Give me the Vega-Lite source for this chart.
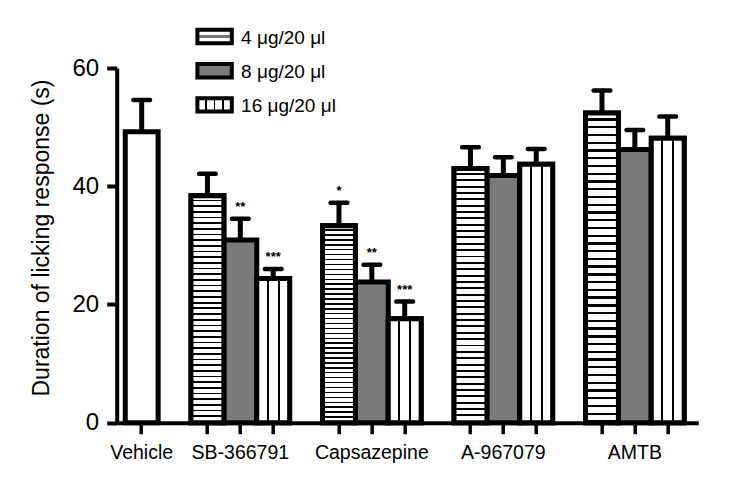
{
  "$schema": "https://vega.github.io/schema/vega-lite/v6.json",
  "width": 581.6,
  "height": 354.7,
  "autosize": "none",
  "padding": {"left": 116.7, "top": 68, "right": 32.7, "bottom": 62.3},
  "config": {"view": {"stroke": null}, "axis": {"grid": false}},
  "data": {"values": [
    {"group": "Vehicle", "dose": "Vehicle", "mean": 49.2, "upper": 54.6, "stars": ""},
    {"group": "SB-366791", "dose": "4 μg/20 μl", "mean": 38.4, "upper": 42.1, "stars": ""},
    {"group": "SB-366791", "dose": "8 μg/20 μl", "mean": 30.9, "upper": 34.5, "stars": "**"},
    {"group": "SB-366791", "dose": "16 μg/20 μl", "mean": 24.4, "upper": 26.0, "stars": "***"},
    {"group": "Capsazepine", "dose": "4 μg/20 μl", "mean": 33.3, "upper": 37.2, "stars": "*"},
    {"group": "Capsazepine", "dose": "8 μg/20 μl", "mean": 23.8, "upper": 26.7, "stars": "**"},
    {"group": "Capsazepine", "dose": "16 μg/20 μl", "mean": 17.6, "upper": 20.5, "stars": "***"},
    {"group": "A-967079", "dose": "4 μg/20 μl", "mean": 43.0, "upper": 46.6, "stars": ""},
    {"group": "A-967079", "dose": "8 μg/20 μl", "mean": 41.8, "upper": 44.9, "stars": ""},
    {"group": "A-967079", "dose": "16 μg/20 μl", "mean": 43.7, "upper": 46.3, "stars": ""},
    {"group": "AMTB", "dose": "4 μg/20 μl", "mean": 52.4, "upper": 56.2, "stars": ""},
    {"group": "AMTB", "dose": "8 μg/20 μl", "mean": 46.2, "upper": 49.5, "stars": ""},
    {"group": "AMTB", "dose": "16 μg/20 μl", "mean": 48.1, "upper": 51.8, "stars": ""}
  ]},
  "transform": [{"calculate": "datum.group + '|' + datum.dose", "as": "key"}],
  "encoding": {
    "x": {
      "field": "key",
      "type": "nominal",
      "sort": null,
      "scale": {
        "domain": ["Vehicle|Vehicle", "gap1", "SB-366791|4 μg/20 μl", "SB-366791|8 μg/20 μl", "SB-366791|16 μg/20 μl", "gap2", "Capsazepine|4 μg/20 μl", "Capsazepine|8 μg/20 μl", "Capsazepine|16 μg/20 μl", "gap3", "A-967079|4 μg/20 μl", "A-967079|8 μg/20 μl", "A-967079|16 μg/20 μl", "gap4", "AMTB|4 μg/20 μl", "AMTB|8 μg/20 μl", "AMTB|16 μg/20 μl"],
        "paddingInner": 0,
        "paddingOuter": 0.345,
        "align": 0.377
      },
      "axis": {
        "title": null,
        "values": ["Vehicle|Vehicle", "SB-366791|4 μg/20 μl", "SB-366791|8 μg/20 μl", "SB-366791|16 μg/20 μl", "Capsazepine|4 μg/20 μl", "Capsazepine|8 μg/20 μl", "Capsazepine|16 μg/20 μl", "A-967079|4 μg/20 μl", "A-967079|8 μg/20 μl", "A-967079|16 μg/20 μl", "AMTB|4 μg/20 μl", "AMTB|8 μg/20 μl", "AMTB|16 μg/20 μl"],
        "labelExpr": "(indexof(datum.value, '|8 ') > 0 || datum.value == 'Vehicle|Vehicle') ? slice(datum.value, 0, indexof(datum.value, '|')) : ''",
        "labelAngle": 0,
        "labelFont": "Liberation Sans",
        "labelFontSize": 19.5,
        "labelColor": "#000",
        "labelPadding": 10,
        "labelDx": 5,
        "labelLimit": 0,
        "labelOverlap": false,
        "domainWidth": 4,
        "domainColor": "#000",
        "tickWidth": 3.5,
        "tickColor": "#000",
        "tickSize": 11
      }
    }
  },
  "layer": [
    {
      "mark": {"type": "bar", "stroke": "#000", "strokeWidth": 5},
      "encoding": {
        "y": {
          "field": "mean",
          "type": "quantitative",
          "title": "Duration of licking response (s)",
          "scale": {"domain": [0, 60], "nice": false},
          "axis": {
            "values": [0, 20, 40, 60],
            "labelFont": "Liberation Sans",
            "labelFontSize": 24,
            "labelColor": "#000",
            "labelPadding": 8,
            "labelFlush": false,
            "domainWidth": 4,
            "domainColor": "#000",
            "tickWidth": 4,
            "tickColor": "#000",
            "tickSize": 10,
            "titleFont": "Liberation Sans",
            "titleFontSize": 23,
            "titleFontWeight": "normal",
            "titleColor": "#000",
            "titlePadding": 19,
            "titleY": 169.5
          }
        },
        "fill": {
          "field": "dose",
          "type": "nominal",
          "scale": {
            "domain": ["4 μg/20 μl", "8 μg/20 μl", "16 μg/20 μl", "Vehicle"],
            "range": [
              {"expr": "{gradient: 'linear', x1: 0, y1: 0, x2: 0, y2: 1, stops: [{offset: 0, color: '#fff'}, {offset: 0.42, color: '#fff'}, {offset: 0.42, color: '#777'}, {offset: 0.58, color: '#777'}, {offset: 0.58, color: '#fff'}, {offset: 1, color: '#fff'}]}"},
              "#7a7a7a",
              {"expr": "{gradient: 'linear', x1: 0, y1: 0, x2: 1, y2: 0, stops: [{offset: 0, color: '#fff'}, {offset: 0.225, color: '#fff'}, {offset: 0.225, color: '#000'}, {offset: 0.275, color: '#000'}, {offset: 0.275, color: '#fff'}, {offset: 0.475, color: '#fff'}, {offset: 0.475, color: '#000'}, {offset: 0.525, color: '#000'}, {offset: 0.525, color: '#fff'}, {offset: 0.725, color: '#fff'}, {offset: 0.725, color: '#000'}, {offset: 0.775, color: '#000'}, {offset: 0.775, color: '#fff'}, {offset: 1, color: '#fff'}]}"},
              "#ffffff"
            ]
          },
          "legend": {
            "values": ["4 μg/20 μl", "8 μg/20 μl", "16 μg/20 μl"],
            "title": null,
            "orient": "none",
            "legendX": 79.4,
            "legendY": -50,
            "padding": 0,
            "symbolType": "M-1.049,-0.41H1.049V0.41H-1.049Z",
            "symbolSize": 1076,
            "symbolStrokeColor": "#000",
            "symbolStrokeWidth": 4,
            "rowPadding": 0.2,
            "labelOffset": 8,
            "labelFont": "Liberation Sans",
            "labelFontSize": 19,
            "labelColor": "#000",
            "labelLimit": 0,
            "encode": {
              "symbols": {"update": {
                "stroke": {"value": "#000"},
                "strokeWidth": {"value": 4}
              }},
              "labels": {"update": {"dy": {"value": 1}}}
            }
          }
        }
      }
    },
    {
      "transform": [{"filter": "datum.dose == '4 μg/20 μl'"}],
      "mark": {"type": "bar", "stroke": "#000", "strokeWidth": 5, "fill": {"gradient": "linear", "x1": 0, "y1": 0, "x2": 0, "y2": 1, "stops": [
        {"offset":0,"color":"#fff"},{"offset":0.0175,"color":"#fff"},{"offset":0.0175,"color":"#000"},{"offset":0.025,"color":"#000"},
        {"offset":0.025,"color":"#fff"},{"offset":0.0425,"color":"#fff"},{"offset":0.0425,"color":"#000"},{"offset":0.05,"color":"#000"},
        {"offset":0.05,"color":"#fff"},{"offset":0.0675,"color":"#fff"},{"offset":0.0675,"color":"#000"},{"offset":0.075,"color":"#000"},
        {"offset":0.075,"color":"#fff"},{"offset":0.0925,"color":"#fff"},{"offset":0.0925,"color":"#000"},{"offset":0.1,"color":"#000"},
        {"offset":0.1,"color":"#fff"},{"offset":0.1175,"color":"#fff"},{"offset":0.1175,"color":"#000"},{"offset":0.125,"color":"#000"},
        {"offset":0.125,"color":"#fff"},{"offset":0.1425,"color":"#fff"},{"offset":0.1425,"color":"#000"},{"offset":0.15,"color":"#000"},
        {"offset":0.15,"color":"#fff"},{"offset":0.1675,"color":"#fff"},{"offset":0.1675,"color":"#000"},{"offset":0.175,"color":"#000"},
        {"offset":0.175,"color":"#fff"},{"offset":0.1925,"color":"#fff"},{"offset":0.1925,"color":"#000"},{"offset":0.2,"color":"#000"},
        {"offset":0.2,"color":"#fff"},{"offset":0.2175,"color":"#fff"},{"offset":0.2175,"color":"#000"},{"offset":0.225,"color":"#000"},
        {"offset":0.225,"color":"#fff"},{"offset":0.2425,"color":"#fff"},{"offset":0.2425,"color":"#000"},{"offset":0.25,"color":"#000"},
        {"offset":0.25,"color":"#fff"},{"offset":0.2675,"color":"#fff"},{"offset":0.2675,"color":"#000"},{"offset":0.275,"color":"#000"},
        {"offset":0.275,"color":"#fff"},{"offset":0.2925,"color":"#fff"},{"offset":0.2925,"color":"#000"},{"offset":0.3,"color":"#000"},
        {"offset":0.3,"color":"#fff"},{"offset":0.3175,"color":"#fff"},{"offset":0.3175,"color":"#000"},{"offset":0.325,"color":"#000"},
        {"offset":0.325,"color":"#fff"},{"offset":0.3425,"color":"#fff"},{"offset":0.3425,"color":"#000"},{"offset":0.35,"color":"#000"},
        {"offset":0.35,"color":"#fff"},{"offset":0.3675,"color":"#fff"},{"offset":0.3675,"color":"#000"},{"offset":0.375,"color":"#000"},
        {"offset":0.375,"color":"#fff"},{"offset":0.3925,"color":"#fff"},{"offset":0.3925,"color":"#000"},{"offset":0.4,"color":"#000"},
        {"offset":0.4,"color":"#fff"},{"offset":0.4175,"color":"#fff"},{"offset":0.4175,"color":"#000"},{"offset":0.425,"color":"#000"},
        {"offset":0.425,"color":"#fff"},{"offset":0.4425,"color":"#fff"},{"offset":0.4425,"color":"#000"},{"offset":0.45,"color":"#000"},
        {"offset":0.45,"color":"#fff"},{"offset":0.4675,"color":"#fff"},{"offset":0.4675,"color":"#000"},{"offset":0.475,"color":"#000"},
        {"offset":0.475,"color":"#fff"},{"offset":0.4925,"color":"#fff"},{"offset":0.4925,"color":"#000"},{"offset":0.5,"color":"#000"},
        {"offset":0.5,"color":"#fff"},{"offset":0.5175,"color":"#fff"},{"offset":0.5175,"color":"#000"},{"offset":0.525,"color":"#000"},
        {"offset":0.525,"color":"#fff"},{"offset":0.5425,"color":"#fff"},{"offset":0.5425,"color":"#000"},{"offset":0.55,"color":"#000"},
        {"offset":0.55,"color":"#fff"},{"offset":0.5675,"color":"#fff"},{"offset":0.5675,"color":"#000"},{"offset":0.575,"color":"#000"},
        {"offset":0.575,"color":"#fff"},{"offset":0.5925,"color":"#fff"},{"offset":0.5925,"color":"#000"},{"offset":0.6,"color":"#000"},
        {"offset":0.6,"color":"#fff"},{"offset":0.6175,"color":"#fff"},{"offset":0.6175,"color":"#000"},{"offset":0.625,"color":"#000"},
        {"offset":0.625,"color":"#fff"},{"offset":0.6425,"color":"#fff"},{"offset":0.6425,"color":"#000"},{"offset":0.65,"color":"#000"},
        {"offset":0.65,"color":"#fff"},{"offset":0.6675,"color":"#fff"},{"offset":0.6675,"color":"#000"},{"offset":0.675,"color":"#000"},
        {"offset":0.675,"color":"#fff"},{"offset":0.6925,"color":"#fff"},{"offset":0.6925,"color":"#000"},{"offset":0.7,"color":"#000"},
        {"offset":0.7,"color":"#fff"},{"offset":0.7175,"color":"#fff"},{"offset":0.7175,"color":"#000"},{"offset":0.725,"color":"#000"},
        {"offset":0.725,"color":"#fff"},{"offset":0.7425,"color":"#fff"},{"offset":0.7425,"color":"#000"},{"offset":0.75,"color":"#000"},
        {"offset":0.75,"color":"#fff"},{"offset":0.7675,"color":"#fff"},{"offset":0.7675,"color":"#000"},{"offset":0.775,"color":"#000"},
        {"offset":0.775,"color":"#fff"},{"offset":0.7925,"color":"#fff"},{"offset":0.7925,"color":"#000"},{"offset":0.8,"color":"#000"},
        {"offset":0.8,"color":"#fff"},{"offset":0.8175,"color":"#fff"},{"offset":0.8175,"color":"#000"},{"offset":0.825,"color":"#000"},
        {"offset":0.825,"color":"#fff"},{"offset":0.8425,"color":"#fff"},{"offset":0.8425,"color":"#000"},{"offset":0.85,"color":"#000"},
        {"offset":0.85,"color":"#fff"},{"offset":0.8675,"color":"#fff"},{"offset":0.8675,"color":"#000"},{"offset":0.875,"color":"#000"},
        {"offset":0.875,"color":"#fff"},{"offset":0.8925,"color":"#fff"},{"offset":0.8925,"color":"#000"},{"offset":0.9,"color":"#000"},
        {"offset":0.9,"color":"#fff"},{"offset":0.9175,"color":"#fff"},{"offset":0.9175,"color":"#000"},{"offset":0.925,"color":"#000"},
        {"offset":0.925,"color":"#fff"},{"offset":0.9425,"color":"#fff"},{"offset":0.9425,"color":"#000"},{"offset":0.95,"color":"#000"},
        {"offset":0.95,"color":"#fff"},{"offset":0.9675,"color":"#fff"},{"offset":0.9675,"color":"#000"},{"offset":0.975,"color":"#000"},
        {"offset":0.975,"color":"#fff"},{"offset":0.9925,"color":"#fff"},{"offset":0.9925,"color":"#000"},{"offset":1,"color":"#000"}
      ]}},
      "encoding": {"y": {"field": "mean", "type": "quantitative", "title": "Duration of licking response (s)"}}
    },
    {
      "transform": [{"filter": "datum.dose == '16 μg/20 μl'"}],
      "mark": {"type": "bar", "stroke": "#000", "strokeWidth": 5, "fill": {"gradient": "linear", "x1": 0, "y1": 0, "x2": 1, "y2": 0, "stops": [
        {"offset": 0, "color": "#fff"}, {"offset": 0.3, "color": "#fff"}, {"offset": 0.3, "color": "#000"}, {"offset": 0.36, "color": "#000"}, {"offset": 0.36, "color": "#fff"}, {"offset": 0.64, "color": "#fff"}, {"offset": 0.64, "color": "#000"}, {"offset": 0.7, "color": "#000"}, {"offset": 0.7, "color": "#fff"}, {"offset": 1, "color": "#fff"}
      ]}},
      "encoding": {"y": {"field": "mean", "type": "quantitative", "title": "Duration of licking response (s)"}}
    },
    {
      "mark": {"type": "rule", "color": "#000", "strokeWidth": 5},
      "encoding": {
        "y": {"field": "mean", "type": "quantitative", "title": "Duration of licking response (s)"},
        "y2": {"field": "upper"}
      }
    },
    {
      "mark": {"type": "tick", "color": "#000", "opacity": 1, "thickness": 4.5, "size": 21, "cornerRadius": 2},
      "encoding": {"y": {"field": "upper", "type": "quantitative", "title": "Duration of licking response (s)"}}
    },
    {
      "mark": {"type": "text", "color": "#000", "font": "Liberation Sans", "fontSize": 13, "fontWeight": "bold", "baseline": "alphabetic", "dy": -8},
      "encoding": {
        "y": {"field": "upper", "type": "quantitative", "title": "Duration of licking response (s)"},
        "text": {"field": "stars"}
      }
    }
  ]
}
